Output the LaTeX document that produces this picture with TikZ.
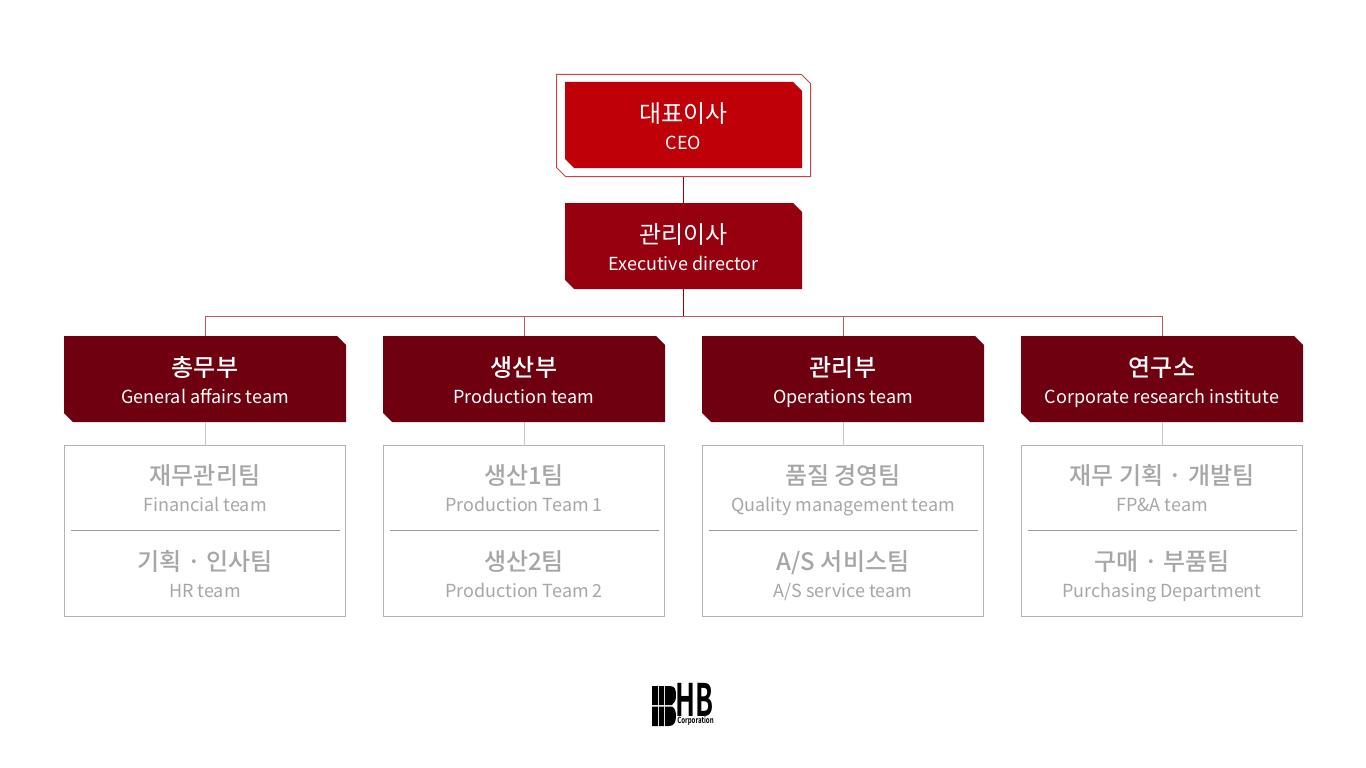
\documentclass[tikz,border=0pt]{standalone}
\usepackage{fontspec}
\setmainfont{Noto Sans CJK KR}
\newfontfamily\mediumfont{Noto Sans CJK KR Medium}
\newfontfamily\boldfont{Noto Sans CJK KR Bold}
\usepackage{xcolor}
\usetikzlibrary{positioning,shapes.misc}

\definecolor{ceored}{HTML}{C00008}
\definecolor{directorred}{HTML}{96000F}
\definecolor{deptred}{HTML}{6E0010}

% title and English name, set on two lines
\newcommand{\linea}{\rule{0pt}{29pt}}
\newcommand{\lineb}{\rule[-8pt]{0pt}{8pt}}
\newcommand{\topname}[2]{\linea{\fontsize{24}{27}\selectfont #1}\\{\fontsize{18}{27}\selectfont #2}\lineb}
\newcommand{\deptname}[2]{\linea{\fontsize{24}{27}\mediumfont\selectfont #1}\\{\fontsize{18}{27}\selectfont #2}\lineb}
\newcommand{\teamname}[2]{\linea{\fontsize{24}{27}\mediumfont\selectfont #1}\\{\fontsize{18}{27}\selectfont #2}\lineb}

\begin{document}
\begin{tikzpicture}[
		x=1pt, y=-1pt,
		cut/.style={chamfered rectangle, chamfered rectangle corners={north east,south west}, chamfered rectangle xsep=4.5pt, chamfered rectangle ysep=4.5pt, inner sep=0pt, outer sep=0pt, align=center, text=white, font=\fontsize{18}{27}\selectfont},
		ceobox/.style={cut, fill=ceored, minimum width=237pt, minimum height=86pt},
		ceoframe/.style={cut, draw=ceored!75, line width=1pt, fill=white, minimum width=254pt, minimum height=102pt, chamfered rectangle xsep=9pt, chamfered rectangle ysep=9pt},
		directorbox/.style={cut, fill=directorred, minimum width=237pt, minimum height=86pt},
		deptbox/.style={cut, fill=deptred, minimum width=282pt, minimum height=86pt},
		teambox/.style={rectangle, draw=black!30, line width=1.5pt, minimum width=281pt, minimum height=171pt, inner sep=0pt, outer sep=0pt},
		teamtext/.style={align=center, text=black!35, inner sep=0pt, font=\fontsize{18}{27}\selectfont},
		redline/.style={draw=directorred, line width=1pt},
		busline/.style={draw=directorred!65, line width=1pt},
		greyline/.style={draw=black!22, line width=1pt},
		divider/.style={draw=black!40, line width=0.8pt}
	]
	\useasboundingbox (0,0) rectangle (1366,768);

	\node[ceoframe] (frame) at (683.5,125.5) {\strut};
	\node[ceobox] (ceo) at (683.5,125) {\topname{대표이사}{CEO}};
	\node[directorbox, below=35pt of ceo] (director) {\topname{관리이사}{Executive director}};

	\coordinate (bus) at (683.5,316);

	\node[deptbox] (general) at (205,379) {\deptname{총무부}{General affairs team}};
	\node[deptbox, right=37pt of general] (production) {\deptname{생산부}{Production team}};
	\node[deptbox, right=37pt of production] (operations) {\deptname{관리부}{Operations team}};
	\node[deptbox, right=37pt of operations] (research) {\deptname{연구소}{Corporate research institute}};

	\node[teambox, below=23.5pt of general] (generalteams) {};
	\node[teambox, below=23.5pt of production] (productionteams) {};
	\node[teambox, below=23.5pt of operations] (operationsteams) {};
	\node[teambox, below=23.5pt of research] (researchteams) {};

	\node[teamtext] (finance) at ([yshift=43.5pt]generalteams.center) {\teamname{재무관리팀}{Financial team}};
	\node[teamtext] (hr) at ([yshift=-42.5pt]generalteams.center) {\teamname{기획 · 인사팀}{HR team}};
	\node[teamtext] (prodone) at ([yshift=43.5pt]productionteams.center) {\teamname{생산1팀}{Production Team 1}};
	\node[teamtext] (prodtwo) at ([yshift=-42.5pt]productionteams.center) {\teamname{생산2팀}{Production Team 2}};
	\node[teamtext] (quality) at ([yshift=43.5pt]operationsteams.center) {\teamname{품질 경영팀}{Quality management team}};
	\node[teamtext] (service) at ([yshift=-42.5pt]operationsteams.center) {\teamname{A/S 서비스팀}{A/S service team}};
	\node[teamtext] (fpa) at ([yshift=43.5pt]researchteams.center) {\teamname{재무 기획 · 개발팀}{FP\&A team}};
	\node[teamtext] (purchasing) at ([yshift=-42.5pt]researchteams.center) {\teamname{구매 · 부품팀}{Purchasing Department}};

	\draw[redline] (frame.south) -- (director.north);
	\draw[redline] (director.south) -- (bus);
	\draw[busline] (bus) -| (general.north);
	\draw[busline] (bus) -| (production.north);
	\draw[busline] (bus) -| (operations.north);
	\draw[busline] (bus) -| (research.north);

	\draw[greyline] (general.south) -- (generalteams.north);
	\draw[greyline] (production.south) -- (productionteams.north);
	\draw[greyline] (operations.south) -- (operationsteams.north);
	\draw[greyline] (research.south) -- (researchteams.north);

	\draw[divider] ([shift={(6pt,0.5pt)}]generalteams.west) -- ([shift={(-6pt,0.5pt)}]generalteams.east);
	\draw[divider] ([shift={(6pt,0.5pt)}]productionteams.west) -- ([shift={(-6pt,0.5pt)}]productionteams.east);
	\draw[divider] ([shift={(6pt,0.5pt)}]operationsteams.west) -- ([shift={(-6pt,0.5pt)}]operationsteams.east);
	\draw[divider] ([shift={(6pt,0.5pt)}]researchteams.west) -- ([shift={(-6pt,0.5pt)}]researchteams.east);

	% logo
	\fill[black] (652,686) rectangle (658,705) (659,686) rectangle (664,705) (665,686) -- (670,686) .. controls (675,686) and (676,690) .. (676,695) .. controls (676,700) and (675,703) .. (672,705) -- (665,705) -- cycle;
	\fill[black] (652,706.5) rectangle (658,726) (659,706.5) rectangle (664,726) (665,706.5) -- (672,706.5) .. controls (675,708) and (676,712) .. (676,716) .. controls (676,722) and (674,726) .. (669,726) -- (665,726) -- cycle;
	\node[inner sep=0pt, xscale=0.66, yscale=1.12, font=\fontsize{40}{40}\boldfont\selectfont] (hb) at (694.5,699.5) {HB};
	\node[inner sep=0pt, xscale=0.72, font=\fontsize{8.5}{9}\boldfont\selectfont] (corporation) at (695.5,721) {Corporation};
\end{tikzpicture}
\end{document}
